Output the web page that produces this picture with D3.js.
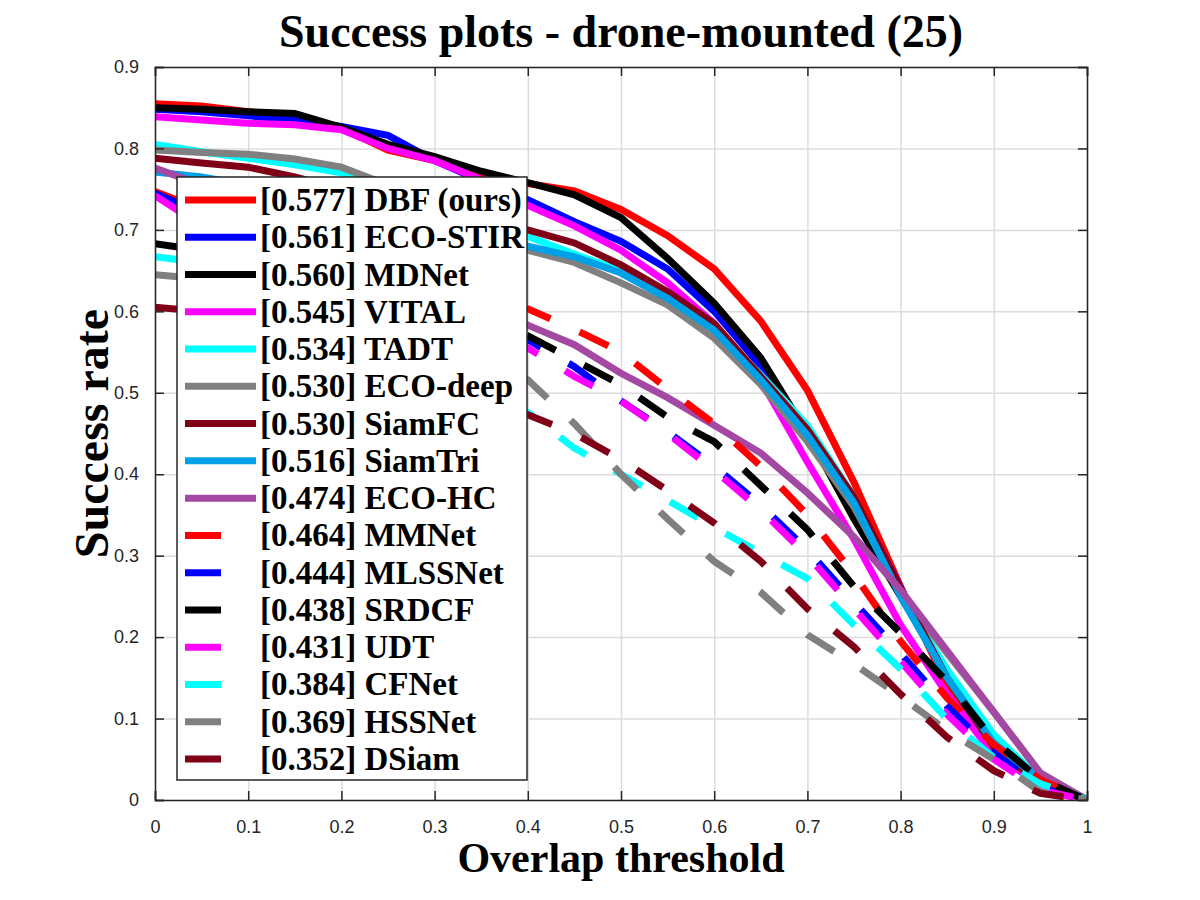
<!DOCTYPE html>
<html>
<head>
<meta charset="utf-8">
<script src="https://cdn.jsdelivr.net/npm/d3@7"></script>
<style>
  body { margin: 0; background: #fff; }
  svg { display: block; }
</style>
</head>
<body>
<svg id="chart"></svg>
<script>
const width = 1200, height = 900;
const margin = {top: 67, right: 113, bottom: 100, left: 155};

// overlap thresholds (x samples)
const thresholds = [0, 0.05, 0.1, 0.15, 0.2, 0.25, 0.3, 0.35, 0.4, 0.45, 0.5,
                    0.55, 0.6, 0.65, 0.7, 0.75, 0.8, 0.85, 0.9, 0.95, 1];

const trackers = ["DBF (ours)", "ECO-STIR", "MDNet", "VITAL", "TADT", "ECO-deep", "SiamFC", "SiamTri",
                  "ECO-HC", "MMNet", "MLSSNet", "SRDCF", "UDT", "CFNet", "HSSNet", "DSiam"];
const aucs = ["0.577", "0.561", "0.560", "0.545", "0.534", "0.530", "0.530", "0.516",
              "0.474", "0.464", "0.444", "0.438", "0.431", "0.384", "0.369", "0.352"];
const colors = ["#ff0000", "#0000ff", "#000000", "#ff00ff", "#00ffff", "#808080", "#800018", "#00a0e6",
                "#a349a4", "#ff0000", "#0000ff", "#000000", "#ff00ff", "#00ffff", "#808080", "#800018"];
const dashed = [false, false, false, false, false, false, false, false, false,
                true, true, true, true, true, true, true];

// success rates per tracker
const dbf      = [0.855, 0.852, 0.845, 0.838, 0.825, 0.798, 0.785, 0.768, 0.757, 0.748, 0.725, 0.693, 0.652, 0.588, 0.503, 0.390, 0.262, 0.140, 0.060, 0.020, 0];
const ecoStir  = [0.848, 0.845, 0.840, 0.835, 0.827, 0.816, 0.785, 0.760, 0.737, 0.710, 0.686, 0.652, 0.600, 0.533, 0.450, 0.370, 0.260, 0.150, 0.065, 0.020, 0];
const mdnet    = [0.850, 0.848, 0.845, 0.843, 0.826, 0.805, 0.790, 0.772, 0.758, 0.743, 0.715, 0.665, 0.610, 0.543, 0.450, 0.345, 0.250, 0.155, 0.070, 0.020, 0];
const vital    = [0.839, 0.835, 0.831, 0.829, 0.823, 0.800, 0.785, 0.762, 0.730, 0.705, 0.675, 0.635, 0.585, 0.515, 0.415, 0.320, 0.215, 0.130, 0.055, 0.020, 0];
const tadt     = [0.805, 0.796, 0.788, 0.780, 0.770, 0.755, 0.735, 0.713, 0.692, 0.670, 0.650, 0.620, 0.580, 0.522, 0.460, 0.372, 0.252, 0.160, 0.080, 0.025, 0];
const ecoDeep  = [0.798, 0.795, 0.793, 0.787, 0.777, 0.755, 0.735, 0.700, 0.675, 0.660, 0.635, 0.608, 0.567, 0.510, 0.440, 0.360, 0.255, 0.180, 0.108, 0.033, 0];
const siamfc   = [0.788, 0.782, 0.777, 0.765, 0.750, 0.740, 0.725, 0.712, 0.700, 0.684, 0.657, 0.624, 0.585, 0.520, 0.455, 0.372, 0.258, 0.150, 0.065, 0.020, 0];
const siamtri  = [0.771, 0.765, 0.755, 0.745, 0.735, 0.722, 0.710, 0.695, 0.680, 0.667, 0.647, 0.616, 0.577, 0.516, 0.448, 0.365, 0.250, 0.150, 0.070, 0.025, 0];
const ecoHc    = [0.776, 0.755, 0.740, 0.720, 0.698, 0.672, 0.643, 0.613, 0.583, 0.559, 0.524, 0.494, 0.460, 0.426, 0.377, 0.323, 0.258, 0.183, 0.108, 0.033, 0];
const mmnet    = [0.747, 0.725, 0.705, 0.685, 0.665, 0.645, 0.630, 0.615, 0.603, 0.578, 0.550, 0.505, 0.462, 0.410, 0.350, 0.277, 0.195, 0.125, 0.068, 0.025, 0];
const mlssnet  = [0.745, 0.720, 0.700, 0.675, 0.655, 0.635, 0.610, 0.590, 0.565, 0.532, 0.490, 0.452, 0.410, 0.362, 0.307, 0.243, 0.180, 0.115, 0.058, 0.015, 0];
const srdcf    = [0.683, 0.675, 0.665, 0.650, 0.635, 0.620, 0.600, 0.585, 0.570, 0.540, 0.510, 0.470, 0.440, 0.386, 0.332, 0.262, 0.205, 0.145, 0.073, 0.025, 0];
const udt      = [0.742, 0.705, 0.680, 0.660, 0.635, 0.615, 0.590, 0.570, 0.555, 0.520, 0.490, 0.450, 0.405, 0.356, 0.300, 0.235, 0.170, 0.105, 0.050, 0.012, 0];
const cfnet    = [0.667, 0.660, 0.645, 0.625, 0.600, 0.575, 0.545, 0.510, 0.476, 0.432, 0.400, 0.368, 0.335, 0.303, 0.272, 0.215, 0.161, 0.099, 0.052, 0.020, 0];
const hssnet   = [0.645, 0.640, 0.630, 0.615, 0.600, 0.580, 0.560, 0.540, 0.516, 0.462, 0.400, 0.345, 0.293, 0.255, 0.203, 0.167, 0.127, 0.085, 0.050, 0.010, 0];
const dsiam    = [0.605, 0.600, 0.590, 0.575, 0.560, 0.540, 0.520, 0.497, 0.473, 0.450, 0.418, 0.380, 0.340, 0.293, 0.235, 0.188, 0.130, 0.077, 0.036, 0.008, 0];

const series = [dbf, ecoStir, mdnet, vital, tadt, ecoDeep, siamfc, siamtri,
                ecoHc, mmnet, mlssnet, srdcf, udt, cfnet, hssnet, dsiam];

const xTicks = [0, 0.1, 0.2, 0.3, 0.4, 0.5, 0.6, 0.7, 0.8, 0.9, 1];
const yTicks = [0, 0.1, 0.2, 0.3, 0.4, 0.5, 0.6, 0.7, 0.8, 0.9];

const INNER_WIDTH = width - margin.left - margin.right;
const INNER_HEIGHT = height - margin.top - margin.bottom;

let svg = d3.select("#chart")
    .attr("width", width)
    .attr("height", height);

let g = svg.append("g")
    .attr("transform", `translate(${margin.left},${margin.top})`);

let x = d3.scaleLinear().domain([0, 1]).range([0, INNER_WIDTH]);
let y = d3.scaleLinear().domain([0, 0.9]).range([INNER_HEIGHT, 0]);

// grid
let gridX = g.append("g")
    .attr("transform", `translate(0,${INNER_HEIGHT})`)
    .call(d3.axisBottom(x).tickValues(xTicks).tickSize(-INNER_HEIGHT).tickFormat(""));
let gridY = g.append("g")
    .call(d3.axisLeft(y).tickValues(yTicks).tickSize(-INNER_WIDTH).tickFormat(""));
[gridX, gridY].forEach(gr => {
    gr.select(".domain").remove();
    gr.selectAll("line").style("stroke", "#dcdcdc").style("stroke-width", 1.5);
});

// curves
let line = d3.line()
    .x((d, i) => x(thresholds[i]))
    .y(d => y(d));

svg.append("defs").append("clipPath").attr("id", "plotclip")
    .append("rect").attr("x", 0).attr("y", 0).attr("width", INNER_WIDTH).attr("height", INNER_HEIGHT);

let curves = g.append("g").attr("clip-path", "url(#plotclip)");
series.forEach((s, k) => {
    curves.append("path")
        .datum(s)
        .attr("d", line)
        .attr("fill", "none")
        .attr("stroke", colors[k])
        .attr("stroke-width", 7)
        .attr("stroke-linejoin", "miter")
        .attr("stroke-dasharray", dashed[k] ? "32,32" : null);
});

// axes with inward ticks on all sides
let tickLen = 9;
let xAxis = g.append("g")
    .attr("transform", `translate(0,${INNER_HEIGHT})`)
    .call(d3.axisBottom(x).tickValues(xTicks).tickSize(-tickLen).tickPadding(20).tickFormat(d3.format("")));
let xAxisTop = g.append("g")
    .call(d3.axisTop(x).tickValues(xTicks).tickSize(-tickLen).tickFormat(""));
let yAxis = g.append("g")
    .call(d3.axisLeft(y).tickValues(yTicks).tickSize(-tickLen).tickPadding(16).tickFormat(d3.format("")));
let yAxisRight = g.append("g")
    .attr("transform", `translate(${INNER_WIDTH},0)`)
    .call(d3.axisRight(y).tickValues(yTicks).tickSize(-tickLen).tickFormat(""));

[xAxis, xAxisTop, yAxis, yAxisRight].forEach(ax => {
    ax.select(".domain").style("stroke", "#262626").style("stroke-width", 1.5);
    ax.selectAll("line").style("stroke", "#262626").style("stroke-width", 1.5);
    ax.selectAll("text")
        .style("font-family", "'Liberation Sans', Arial, sans-serif")
        .style("font-size", "18px")
        .style("fill", "#262626");
});

// title and labels
svg.append("text")
    .attr("x", margin.left + INNER_WIDTH / 2)
    .attr("y", 47)
    .attr("text-anchor", "middle")
    .style("font-family", "'Liberation Serif', 'Times New Roman', serif")
    .style("font-weight", "bold")
    .style("font-size", "46px")
    .text("Success plots - drone-mounted (25)");

svg.append("text")
    .attr("x", margin.left + INNER_WIDTH / 2)
    .attr("y", 872)
    .attr("text-anchor", "middle")
    .style("font-family", "'Liberation Serif', 'Times New Roman', serif")
    .style("font-weight", "bold")
    .style("font-size", "42px")
    .text("Overlap threshold");

svg.append("text")
    .attr("transform", `translate(108,${margin.top + INNER_HEIGHT / 2}) rotate(-90)`)
    .attr("text-anchor", "middle")
    .style("font-family", "'Liberation Serif', 'Times New Roman', serif")
    .style("font-weight", "bold")
    .style("font-size", "48px")
    .text("Success rate");

// legend
let legend = svg.append("g").attr("transform", "translate(177,177)");
legend.append("rect")
    .attr("width", 350)
    .attr("height", 603)
    .attr("fill", "#fff")
    .attr("stroke", "#262626")
    .attr("stroke-width", 1.5);

let rowY = d3.scaleLinear().domain([0, 15]).range([23, 582]);
trackers.forEach((name, k) => {
    let row = legend.append("g").attr("transform", `translate(0,${rowY(k)})`);
    row.append("line")
        .attr("x1", 8).attr("x2", dashed[k] ? 44 : 79)
        .attr("stroke", colors[k])
        .attr("stroke-width", 7);
    row.append("text")
        .attr("x", 83)
        .attr("y", 11)
        .style("font-family", "'Liberation Serif', 'Times New Roman', serif")
        .style("font-weight", "bold")
        .style("font-size", "33px")
        .text(`[${aucs[k]}] ${name}`);
});
</script>
</body>
</html>
